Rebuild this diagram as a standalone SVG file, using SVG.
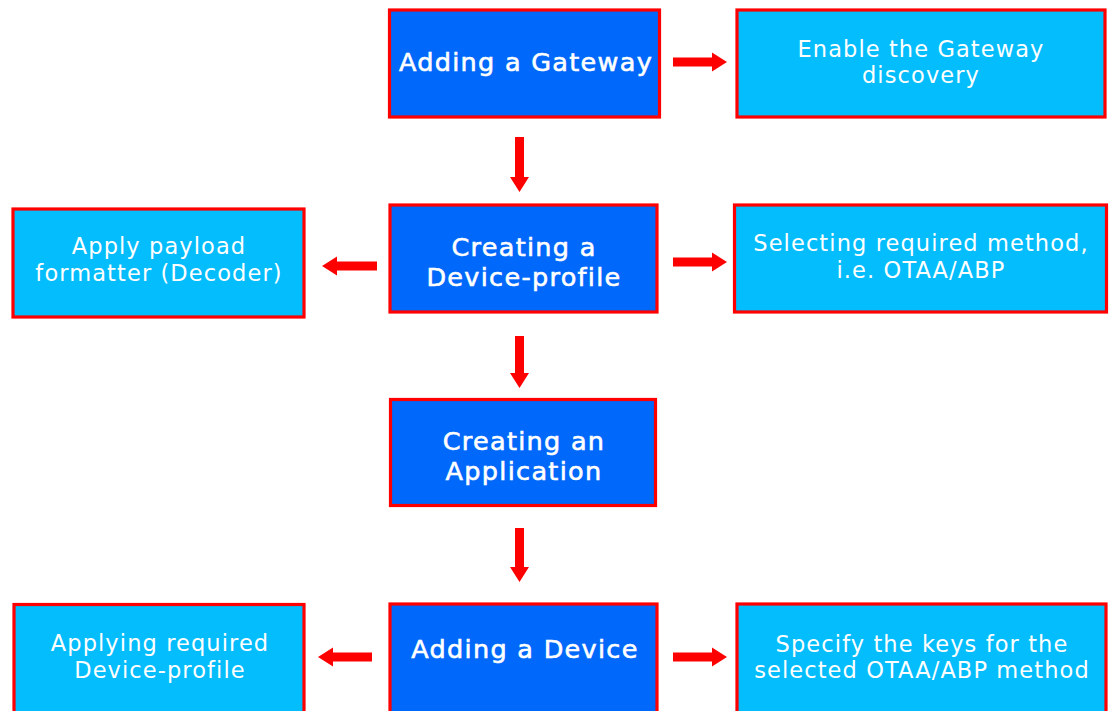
<svg xmlns="http://www.w3.org/2000/svg" width="1112" height="711" viewBox="0 0 1112 711">
<style>
.dark{fill:#0068FB;stroke:#FF0000;stroke-width:3.2}
.light{fill:#03BDFD;stroke:#FF0000;stroke-width:3.2}
.tb{font-family:"DejaVu Sans","Noto Sans",sans-serif;font-weight:400;font-size:25.5px;letter-spacing:1.3px;fill:#FFFFFF;stroke:#FFFFFF;stroke-width:0.6;text-anchor:middle}
.tl{font-family:"DejaVu Sans","Noto Sans",sans-serif;font-weight:400;font-size:22.5px;letter-spacing:1.1px;fill:#FFFFFF;text-anchor:middle}
.arrow{fill:#FF0000}
</style>
<rect width="1112" height="711" fill="#FFFFFF"/>
<g id="connectors">
<polygon class="arrow" points="673,57.5 712,57.5 712,52.5 727,62 712,71.5 712,66.5 673,66.5"/>
<polygon class="arrow" points="673,257.5 712,257.5 712,252.5 727,262 712,271.5 712,266.5 673,266.5"/>
<polygon class="arrow" points="673,652.5 712,652.5 712,647.5 727,657 712,666.5 712,661.5 673,661.5"/>
<polygon class="arrow" points="377,261.5 337,261.5 337,256.5 322,266 337,275.5 337,270.5 377,270.5"/>
<polygon class="arrow" points="372,652.5 333,652.5 333,647.5 318,657 333,666.5 333,661.5 372,661.5"/>
<polygon class="arrow" points="515,137 524,137 524,177 529,177 519.5,192 510,177 515,177"/>
<polygon class="arrow" points="515,336 524,336 524,373 529,373 519.5,388 510,373 515,373"/>
<polygon class="arrow" points="515,528 524,528 524,567 529,567 519.5,582 510,567 515,567"/>
</g>
<g id="adding-gateway">
<rect class="dark" x="389.5" y="10" width="270" height="107"/>
<text class="tb" x="526" y="71">Adding a Gateway</text>
</g>
<g id="enable-discovery">
<rect class="light" x="737" y="10" width="368" height="107"/>
<text class="tl" x="921" y="56.5">Enable the Gateway</text>
<text class="tl" x="921" y="82.5">discovery</text>
</g>
<g id="payload-formatter">
<rect class="light" x="13" y="209" width="291" height="108"/>
<text class="tl" x="159" y="254">Apply payload</text>
<text class="tl" x="159" y="280.5">formatter (Decoder)</text>
</g>
<g id="creating-device-profile">
<rect class="dark" x="390" y="205" width="267" height="107"/>
<text class="tb" x="524" y="256">Creating a</text>
<text class="tb" x="524" y="286">Device-profile</text>
</g>
<g id="selecting-method">
<rect class="light" x="734.5" y="205" width="372" height="107"/>
<text class="tl" x="921" y="251">Selecting required method,</text>
<text class="tl" x="921" y="277.5">i.e. OTAA/ABP</text>
</g>
<g id="creating-application">
<rect class="dark" x="390.5" y="399.5" width="265" height="106"/>
<text class="tb" x="524" y="450">Creating an</text>
<text class="tb" x="524" y="480">Application</text>
</g>
<g id="applying-device-profile">
<rect class="light" x="14" y="604.5" width="290" height="120"/>
<text class="tl" x="160" y="651">Applying required</text>
<text class="tl" x="160" y="677.5">Device-profile</text>
</g>
<g id="adding-device">
<rect class="dark" x="390" y="604" width="267" height="120"/>
<text class="tb" x="525" y="658">Adding a Device</text>
</g>
<g id="specify-keys">
<rect class="light" x="737" y="604" width="369" height="120"/>
<text class="tl" x="922" y="651.5">Specify the keys for the</text>
<text class="tl" x="922" y="677.5">selected OTAA/ABP method</text>
</g>
</svg>
